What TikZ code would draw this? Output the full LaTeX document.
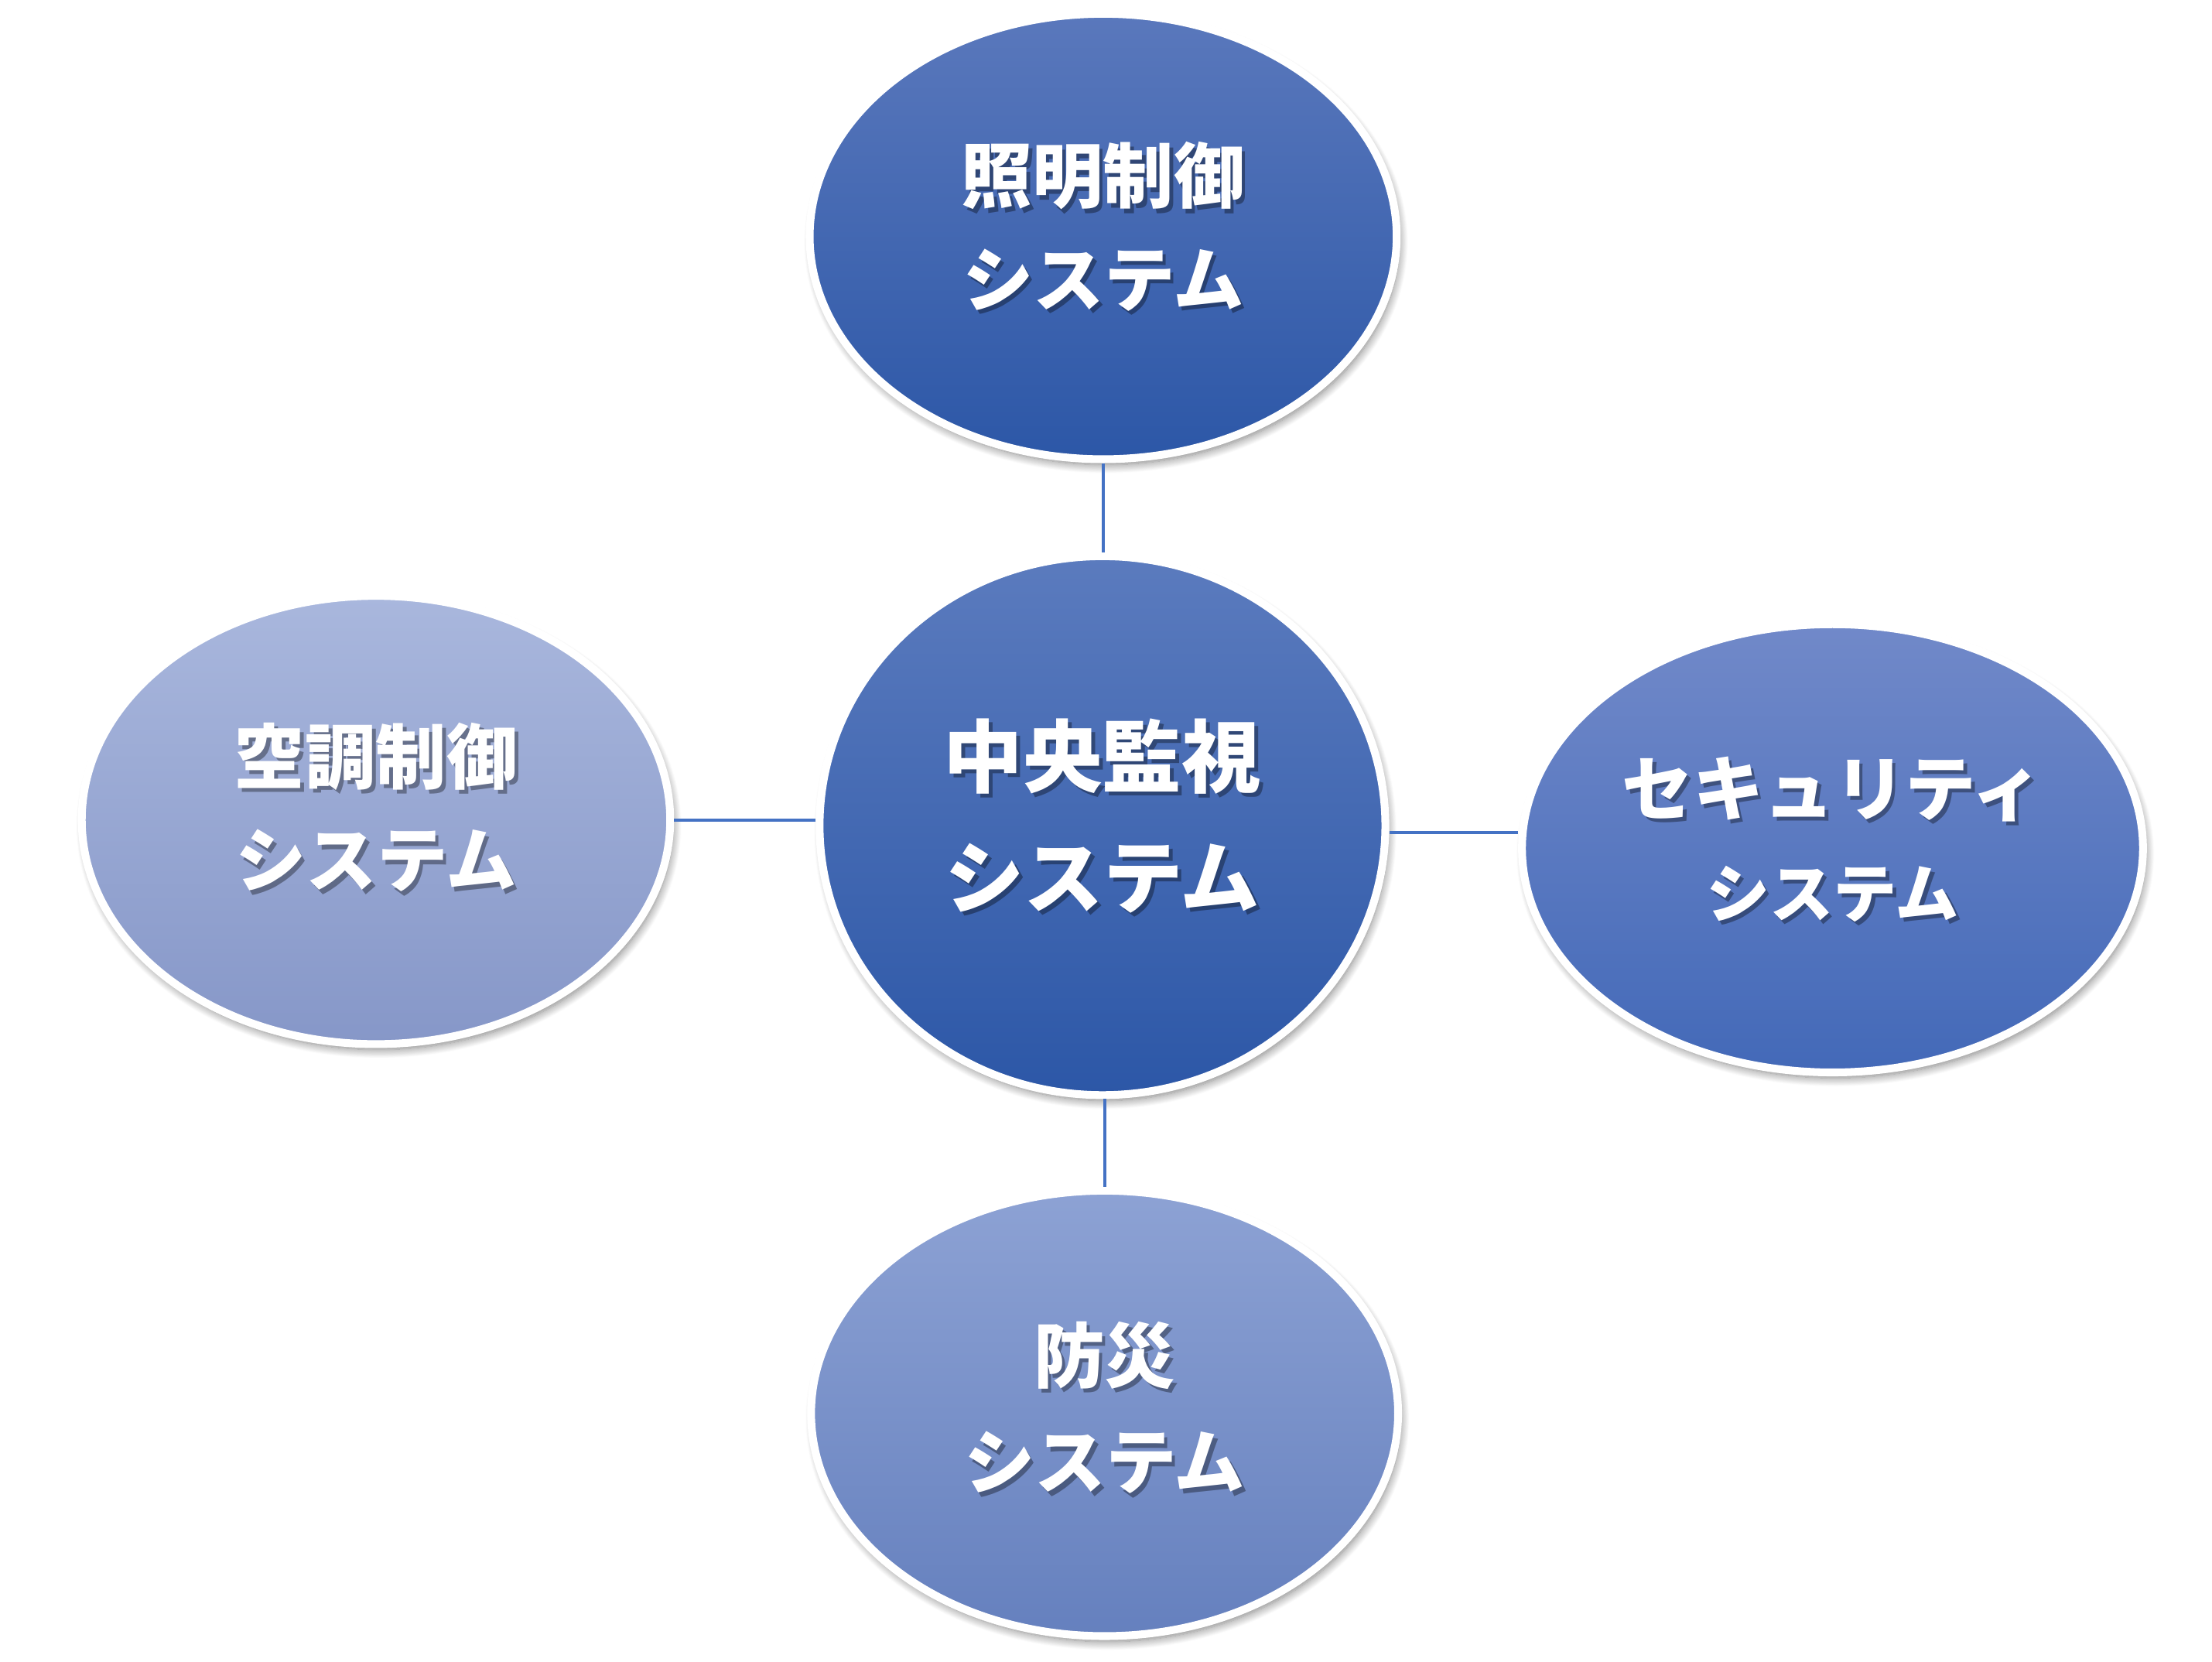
\documentclass[tikz,border=0pt]{standalone}
\usepackage{fontspec}
\newfontfamily\jp{Noto Sans CJK JP}
\usetikzlibrary{shapes.geometric,shadows.blur}
\definecolor{linkblue}{HTML}{4472C4}
\tikzset{
  bubble/.style={ellipse, draw=white, line width=5.5pt, inner sep=0pt,
    blur shadow={shadow xshift=2pt, shadow yshift=-4pt, shadow blur radius=6pt, shadow blur steps=14, shadow opacity=50}},
  label/.style={align=center, text=white, font=\jp\bfseries},
  lshadow/.style={align=center, text=black, opacity=0.35, font=\jp\bfseries},
  link/.style={draw=linkblue, line width=2pt}
}
\begin{document}
\begin{tikzpicture}[x=1pt,y=1pt]
\useasboundingbox (0,0) rectangle (1562,1173);
% ellipses
\node[bubble, minimum width=414.5pt, minimum height=314.5pt, top color={rgb,255:red,90;green,120;blue,188}, middle color={rgb,255:red,54;green,100;blue,182}, bottom color={rgb,255:red,44;green,87;blue,167}] (top) at (779,1006) {};
\node[bubble, minimum width=399.5pt, minimum height=380.5pt, top color={rgb,255:red,91;green,123;blue,190}, middle color={rgb,255:red,54;green,100;blue,182}, bottom color={rgb,255:red,44;green,87;blue,167}] (ctr) at (778.5,590) {};
\node[bubble, minimum width=415.5pt, minimum height=316.5pt, top color={rgb,255:red,169;green,183;blue,221}, middle color={rgb,255:red,157;green,172;blue,216}, bottom color={rgb,255:red,134;green,151;blue,200}] (lft) at (265.5,594) {};
\node[bubble, minimum width=438.5pt, minimum height=316.5pt, top color={rgb,255:red,113;green,137;blue,201}, middle color={rgb,255:red,84;green,121;blue,200}, bottom color={rgb,255:red,67;green,105;blue,184}] (rgt) at (1294,574) {};
\node[bubble, minimum width=414.5pt, minimum height=314.5pt, top color={rgb,255:red,141;green,162;blue,212}, middle color={rgb,255:red,120;green,145;blue,208}, bottom color={rgb,255:red,101;green,128;blue,190}] (bot) at (780,175) {};
% connectors
\draw[link] (top.south) -- (top.south |- ctr.north);
\draw[link] (lft.east) -- (lft.east -| ctr.west);
\draw[link] ([yshift=-5pt]ctr.east) -- ([yshift=-5pt]ctr.east -| rgt.west);
\draw[link] (bot.north) -- (bot.north |- ctr.south);
% labels
\node[lshadow, font=\jp\bfseries\fontsize{50}{73}\selectfont] (topS) at ([xshift=2.5pt,yshift=4pt]top.center) {照明制御\\システム};
\node[label, font=\jp\bfseries\fontsize{50}{73}\selectfont] (topT) at ([yshift=7pt]top.center) {照明制御\\システム};
\node[lshadow, font=\jp\bfseries\fontsize{56}{85}\selectfont] (ctrS) at ([xshift=2.5pt,yshift=4pt]ctr.center) {中央監視\\システム};
\node[label, font=\jp\bfseries\fontsize{56}{85}\selectfont] (ctrT) at ([yshift=7pt]ctr.center) {中央監視\\システム};
\node[lshadow, font=\jp\bfseries\fontsize{50}{73}\selectfont] (lftS) at ([xshift=2.5pt,yshift=6pt]lft.center) {空調制御\\システム};
\node[label, font=\jp\bfseries\fontsize{50}{73}\selectfont] (lftT) at ([yshift=9pt]lft.center) {空調制御\\システム};
\node[lshadow, font=\jp\bfseries\fontsize{50}{72}\selectfont] (rgtS) at ([xshift=2.5pt,yshift=3.5pt]rgt.center) {セキュリティ\\{\fontsize{45}{72}\selectfont システム}};
\node[label, font=\jp\bfseries\fontsize{50}{72}\selectfont] (rgtT) at ([yshift=6.5pt]rgt.center) {セキュリティ\\{\fontsize{45}{72}\selectfont システム}};
\node[lshadow, font=\jp\bfseries\fontsize{50}{75}\selectfont] (botS) at ([xshift=2.5pt,yshift=1pt]bot.center) {防災\\システム};
\node[label, font=\jp\bfseries\fontsize{50}{75}\selectfont] (botT) at ([yshift=4pt]bot.center) {防災\\システム};
\end{tikzpicture}
\end{document}
